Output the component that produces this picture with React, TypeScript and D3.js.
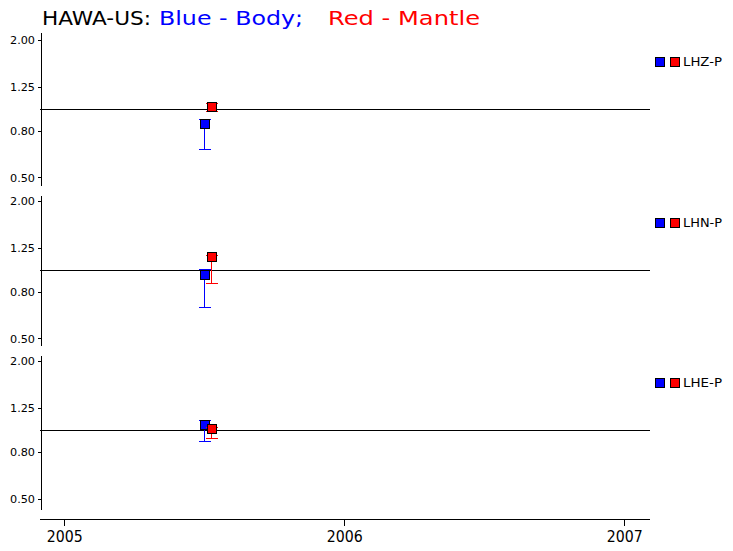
import React from "react";
import * as d3 from "d3";

const stationName = "HAWA-US:";
const components = ["LHZ-P", "LHN-P", "LHE-P"];
const bodyDate = "2005-07-03";
const mantleDate = "2005-07-12";
const bodyValues = [0.858, 0.951, 1.055];
const bodyLow = [0.663, 0.688, 0.895];
const bodyHigh = [0.906, 1.01, 1.106];
const mantleValues = [1.02, 1.147, 1.016];
const mantleLow = [0.977, 0.871, 0.925];
const mantleHigh = [1.059, 1.164, 1.034];
const yTicks = [0.5, 0.8, 1.25, 2.0];
const xTickYears = ["2005", "2006", "2007"];

const W = 733;
const H = 551;
const panelCenters = [109.3, 270.3, 430.4];
const panelTops = [33, 195.5, 355.5];
const panelBottoms = [186, 346, 510];
const axisX = 41;
const rightX = 650;
const xAxisY = 519.5;
const BLUE = "#0000ff";
const RED = "#ff0000";
const FONT = "'DejaVu Sans', sans-serif";

export default function App() {
  const x = d3
    .scaleUtc()
    .domain([new Date(Date.UTC(2005, 0, 1)), new Date(Date.UTC(2007, 0, 1))])
    .range([64.3, 624.3]);
  const xTicks = xTickYears.map((y) => new Date(Date.UTC(+y, 0, 1)));
  const fmt = d3.utcFormat("%Y");
  const ms = 9;
  const cap = 6;

  const drawPoint = (
    cx: number,
    yS: d3.ScaleLogarithmic<number, number>,
    v: number,
    lo: number,
    hi: number,
    color: string
  ) => (
    <g shapeRendering="crispEdges">
      <line x1={cx} x2={cx} y1={yS(lo)} y2={yS(hi)} stroke={color} strokeWidth={1} />
      <line x1={cx - cap} x2={cx + cap} y1={yS(lo)} y2={yS(lo)} stroke={color} strokeWidth={1} />
      <line x1={cx - cap} x2={cx + cap} y1={yS(hi)} y2={yS(hi)} stroke={color} strokeWidth={1} />
      <rect
        x={cx - ms / 2}
        y={yS(v) - ms / 2}
        width={ms}
        height={ms}
        fill={color}
        stroke="#000"
        strokeWidth={1}
      />
    </g>
  );

  return (
    <svg
      width={W}
      height={H}
      style={{ position: "absolute", left: 0, top: 0, background: "#fff" }}
    >
      <rect x={0} y={0} width={W} height={H} fill="#fff" />
      <text x={42} y={25} fontFamily={FONT} fontSize={20} fill="#000" textLength={109} lengthAdjust="spacingAndGlyphs">
        {stationName}
      </text>
      <text x={159} y={25} fontFamily={FONT} fontSize={20} fill={BLUE} textLength={144} lengthAdjust="spacingAndGlyphs">
        Blue - Body;
      </text>
      <text x={328} y={25} fontFamily={FONT} fontSize={20} fill={RED} textLength={152} lengthAdjust="spacingAndGlyphs">
        Red - Mantle
      </text>

      {components.map((comp, i) => {
        const c = panelCenters[i];
        const yS = d3.scaleLog().domain([0.5, 2]).range([c + 68.6, c - 68.6]);
        const ly = c - 47.6;
        return (
          <g key={comp}>
            <g shapeRendering="crispEdges">
              <line x1={axisX} x2={axisX} y1={panelTops[i]} y2={panelBottoms[i]} stroke="#000" strokeWidth={1} />
              <line x1={axisX - 1} x2={rightX} y1={yS(1)} y2={yS(1)} stroke="#000" strokeWidth={1} />
            </g>
            {yTicks.map((t) => (
              <g key={t}>
                <line x1={axisX - 3} x2={axisX} y1={yS(t)} y2={yS(t)} stroke="#000" strokeWidth={1} shapeRendering="crispEdges" />
                <text
                  x={35}
                  y={yS(t) + 3.6}
                  textAnchor="end"
                  fontFamily={FONT}
                  fontSize={10}
                  textLength={25}
                  lengthAdjust="spacingAndGlyphs"
                  fill="#000"
                >
                  {t.toFixed(2)}
                </text>
              </g>
            ))}
            {drawPoint(x(new Date(bodyDate)), yS, bodyValues[i], bodyLow[i], bodyHigh[i], BLUE)}
            {drawPoint(x(new Date(mantleDate)), yS, mantleValues[i], mantleLow[i], mantleHigh[i], RED)}
            <g shapeRendering="crispEdges">
              <rect x={655.5} y={ly - 4.5} width={9} height={9} fill={BLUE} stroke="#000" strokeWidth={1} />
              <rect x={670.5} y={ly - 4.5} width={9} height={9} fill={RED} stroke="#000" strokeWidth={1} />
            </g>
            <text
              x={683}
              y={ly + 4.5}
              fontFamily={FONT}
              fontSize={12}
              textLength={39}
              lengthAdjust="spacingAndGlyphs"
              fill="#000"
            >
              {comp}
            </text>
          </g>
        );
      })}

      <g shapeRendering="crispEdges">
        <line x1={40} x2={rightX} y1={xAxisY} y2={xAxisY} stroke="#000" strokeWidth={1} />
      </g>
      {xTicks.map((t) => (
        <g key={fmt(t)}>
          <line x1={x(t)} x2={x(t)} y1={xAxisY} y2={xAxisY + 6} stroke="#000" strokeWidth={1} shapeRendering="crispEdges" />
          <text
            x={x(t) + 0.5}
            y={542}
            textAnchor="middle"
            fontFamily={FONT}
            fontSize={15}
            textLength={36}
            lengthAdjust="spacingAndGlyphs"
            fill="#000"
          >
            {fmt(t)}
          </text>
        </g>
      ))}
    </svg>
  );
}
